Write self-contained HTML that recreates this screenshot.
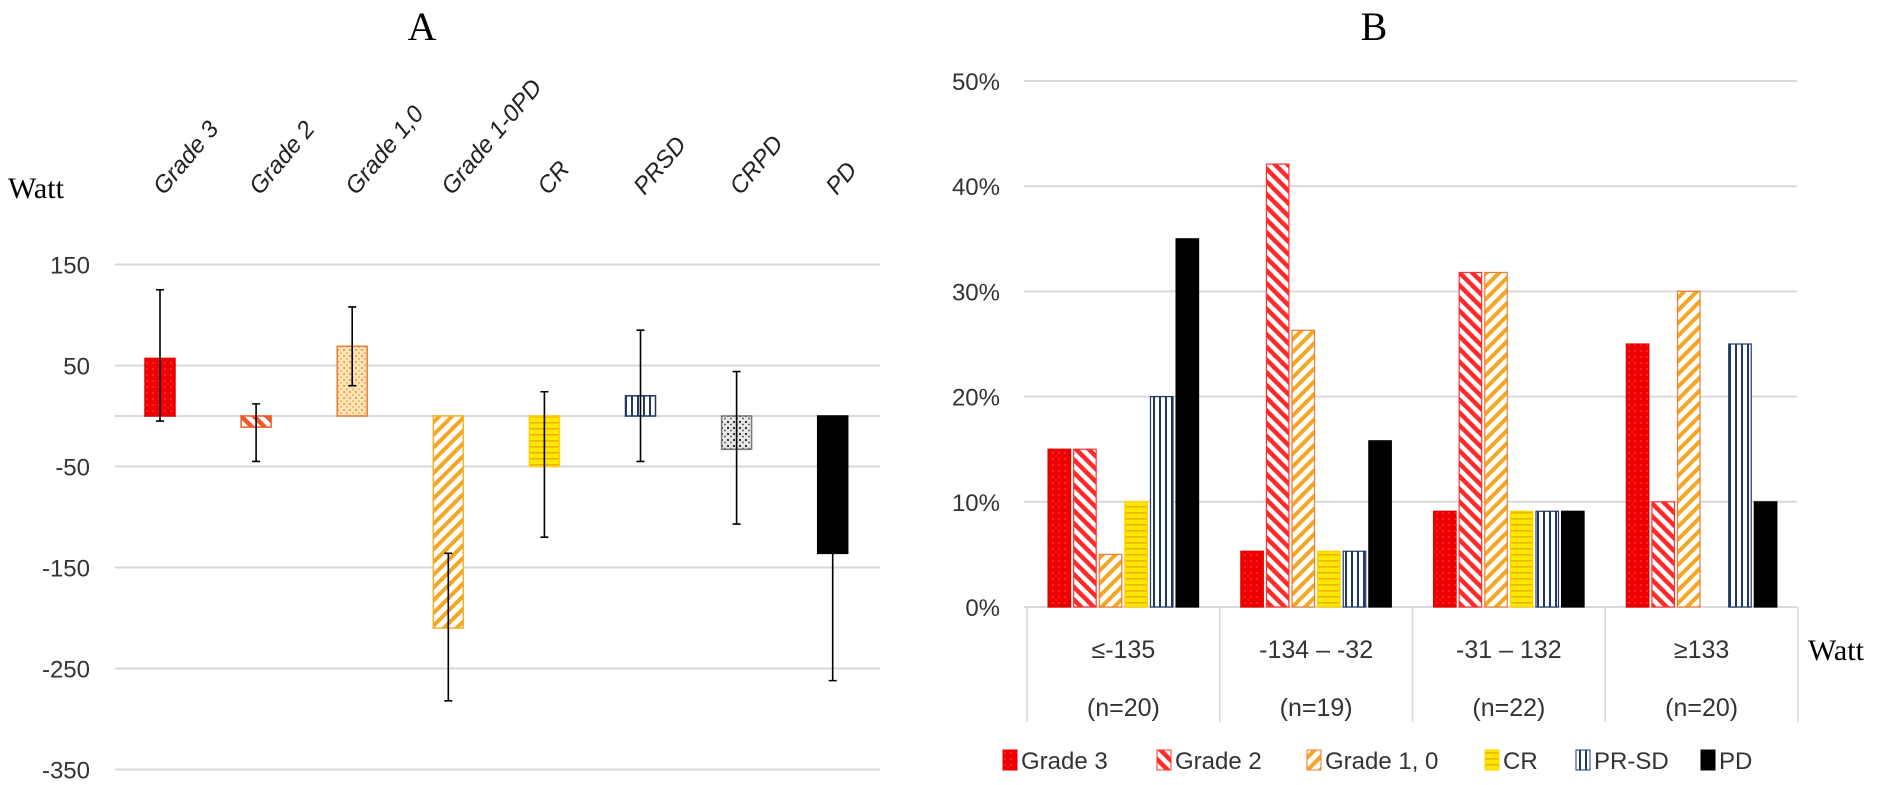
<!DOCTYPE html>
<html><head><meta charset="utf-8">
<style>
html,body{margin:0;padding:0;background:#fff;}
svg{display:block;}
</style></head>
<body>
<svg id="chart" width="1890" height="785" viewBox="0 0 1890 785" xmlns="http://www.w3.org/2000/svg">
<defs>
  <pattern id="pRed" width="6" height="6" patternUnits="userSpaceOnUse"><rect width="6" height="6" fill="#f00000"/><circle cx="3" cy="3" r="0.7" fill="#ff5a5a"/></pattern>
  <pattern id="pG2" width="9" height="9" patternUnits="userSpaceOnUse" patternTransform="rotate(-45)"><rect width="9" height="9" fill="#fff"/><rect width="4.5" height="9" fill="#ff2a2a"/></pattern>
  <pattern id="pG2A" width="9" height="9" patternUnits="userSpaceOnUse" patternTransform="rotate(-45)"><rect width="9" height="9" fill="#fff"/><rect width="4.5" height="9" fill="#f05a28"/></pattern>
  <pattern id="pG1" width="9" height="9" patternUnits="userSpaceOnUse" patternTransform="rotate(45)"><rect width="9" height="9" fill="#fff"/><rect width="4" height="9" fill="#f5a623"/></pattern>
  <pattern id="pDotO" width="6" height="6" patternUnits="userSpaceOnUse"><rect width="6" height="6" fill="#fde3b8"/><circle cx="2" cy="2" r="1" fill="#e8902a"/><circle cx="5" cy="5" r="0.8" fill="#e8902a"/></pattern>
  <pattern id="pCR" width="6" height="6" patternUnits="userSpaceOnUse"><rect width="6" height="6" fill="#ffe800"/><rect y="2" width="6" height="1.6" fill="#f0b400"/></pattern>
  <pattern id="pPR" width="6" height="6" patternUnits="userSpaceOnUse"><rect width="6" height="6" fill="#fff"/><rect x="1" width="2" height="6" fill="#1f3864"/></pattern>
  <pattern id="pCRPD" width="6" height="6" patternUnits="userSpaceOnUse"><rect width="6" height="6" fill="#e8e8e8"/><circle cx="2" cy="2" r="1.1" fill="#222"/><circle cx="5" cy="4.5" r="0.9" fill="#444"/></pattern>
</defs>
<g id="panelA"></g>
<g id="panelB"></g>
</svg>
<script>
// ---------- Panel A data ----------
const catsA = ["Grade 3","Grade 2","Grade 1,0","Grade 1-0PD","CR","PRSD","CRPD","PD"];
const valsA = [57, -11, 69, -210, -50, 20, -33, -136];
const errHiA = [125, 12, 108, -136, 24, 85, 44, -10];
const errLoA = [-5, -45, 30, -282, -120, -45, -107, -262];
const ticksA = [150, 50, -50, -150, -250, -350];
// ---------- Panel B data ----------
const catsB = ["≤-135","-134 – -32","-31 – 132","≥133"];
const nB = ["(n=20)","(n=19)","(n=22)","(n=20)"];
const seriesB = ["Grade 3","Grade 2","Grade 1, 0","CR","PR-SD","PD"];
const g3B = [15, 5.3, 9.1, 25];
const g2B = [15, 42.1, 31.8, 10];
const g1B = [5, 26.3, 31.8, 30];
const crB = [10, 5.3, 9.1, 0];
const prB = [20, 5.3, 9.1, 25];
const pdB = [35, 15.8, 9.1, 10];
const ticksB = [0, 10, 20, 30, 40, 50];

const NS = "http://www.w3.org/2000/svg";
function mk(tag, attrs, parent){const e=document.createElementNS(NS,tag);for(const k in attrs)e.setAttribute(k,attrs[k]);parent.appendChild(e);return e;}

// ---------- Panel A ----------
const A = document.getElementById("panelA");
const yA = v => 416 - (v) * 1.01;
const xA = i => 160 + i * 96.1;
const fillA = ["url(#pRed)","url(#pG2A)","url(#pDotO)","url(#pG1)","url(#pCR)","url(#pPR)","url(#pCRPD)","#000"];
const strokeA = ["#e00000","#f05a28","#ed7d31","#f5b030","#ffd000","#1f3864","#777","#000"];

let t = mk("text",{x:422,y:40,"font-family":"Liberation Serif, serif","font-size":40,"text-anchor":"middle",fill:"#000"},A);
t.textContent="A";


t = mk("text",{x:8,y:198,"font-family":"Liberation Serif, serif","font-size":30,fill:"#000"},A);
t.textContent="Watt";



ticksA.forEach(v=>{
  const l = mk("line",{x1:115,x2:880,y1:yA(v),y2:yA(v),stroke:"#d9d9d9","stroke-width":2},A);
  
  
  const tx = mk("text",{x:90,y:yA(v)+9,"font-family":"Liberation Sans, sans-serif","font-size":24,"text-anchor":"end",fill:"#333"},A);
  tx.textContent = v;
  
  
});
const z = mk("line",{x1:115,x2:880,y1:yA(0),y2:yA(0),stroke:"#d9d9d9","stroke-width":2},A);



catsA.forEach((c,i)=>{
  const cx = xA(i);
  const v = valsA[i];
  const top = Math.min(yA(v), yA(0)), h = Math.abs(yA(v)-yA(0));
  const r = mk("rect",{x:cx-15,y:top,width:30,height:h,fill:fillA[i],stroke:strokeA[i],"stroke-width":1.5},A);
  
  
  const e = mk("path",{d:`M${cx},${yA(errHiA[i])}V${yA(errLoA[i])}M${cx-4},${yA(errHiA[i])}H${cx+4}M${cx-4},${yA(errLoA[i])}H${cx+4}`,stroke:"#000","stroke-width":1.6,fill:"none"},A);
  
  
  const lx = cx + 4, ly = 196;
  const lab = mk("text",{x:lx,y:ly,transform:`rotate(-50 ${lx} ${ly})`,"font-family":"Liberation Sans, sans-serif","font-size":24,"font-style":"italic",fill:"#222"},A);
  lab.textContent = c;
  
  
});

// ---------- Panel B ----------
const B = document.getElementById("panelB");
const yB = v => 607 - v * 10.52;
const x0B = 1027, cwB = 192.75;
t = mk("text",{x:1374,y:40,"font-family":"Liberation Serif, serif","font-size":40,"text-anchor":"middle",fill:"#000"},B);
t.textContent="B";



ticksB.forEach(v=>{
  const l = mk("line",{x1:1024,x2:1797,y1:yB(v),y2:yB(v),stroke:"#d9d9d9","stroke-width":2},B);
  
  
  const tx = mk("text",{x:1000,y:yB(v)+9,"font-family":"Liberation Sans, sans-serif","font-size":24,"text-anchor":"end",fill:"#333"},B);
  tx.textContent = v+"%";
  
  
});
for(let k=0;k<=catsB.length;k++){
  const xx = x0B + k*cwB;
  const d = mk("line",{x1:xx,x2:xx,y1:607,y2:722,stroke:"#d9d9d9","stroke-width":1.5},B);
  
  
}
const allB = [g3B,g2B,g1B,crB,prB,pdB];
const fillB = ["url(#pRed)","url(#pG2)","url(#pG1)","url(#pCR)","url(#pPR)","#000"];
const strokeB = ["#e00000","#ff3030","#ed7d31","#ffd000","#1f3864","#000"];
const bw = 22.5, step = 25.6;
catsB.forEach((c,gi)=>{
  const gx = x0B + gi*cwB + (cwB - 6*step)/2 + 1.5;
  allB.forEach((ser,si)=>{
    const v = ser[gi];
    if(v<=0) return;
    const r = mk("rect",{x:gx+si*step,y:yB(v),width:bw,height:yB(0)-yB(v),fill:fillB[si],stroke:strokeB[si],"stroke-width":1.2},B);
    
    
  });
  const cx = x0B + gi*cwB + cwB/2;
  const l1 = mk("text",{x:cx,y:658,"font-family":"Liberation Sans, sans-serif","font-size":25,"text-anchor":"middle",fill:"#333"},B);
  l1.textContent = c;
  
  
  const l2 = mk("text",{x:cx,y:716,"font-family":"Liberation Sans, sans-serif","font-size":25,"text-anchor":"middle",fill:"#333"},B);
  l2.textContent = nB[gi];
  
  
});
t = mk("text",{x:1808,y:660,"font-family":"Liberation Serif, serif","font-size":30,fill:"#000"},B);
t.textContent="Watt";



const legX = [1003,1157,1307,1485,1576,1701];
seriesB.forEach((s,i)=>{
  const g = mk("g",{},B);
  
  
  mk("rect",{x:legX[i],y:750,width:14,height:20,fill:fillB[i],stroke:strokeB[i],"stroke-width":1},g);
  const tx = mk("text",{x:legX[i]+18,y:769,"font-family":"Liberation Sans, sans-serif","font-size":24,fill:"#333"},g);
  tx.textContent = s;
});
</script>
</body></html>
